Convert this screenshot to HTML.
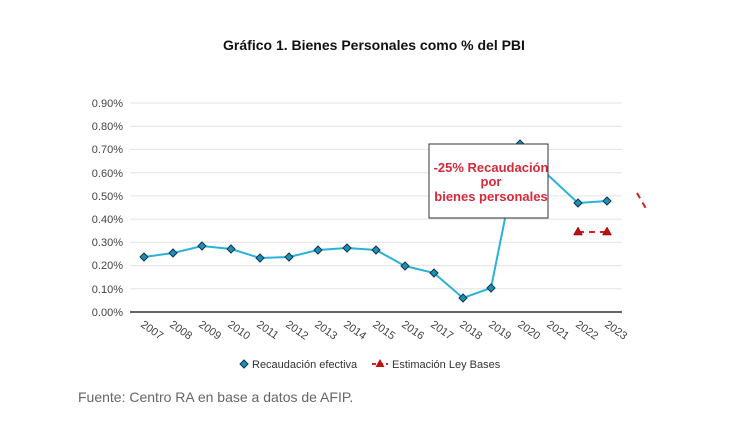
<!DOCTYPE html>
<html><head><meta charset="utf-8"><style>
body{margin:0;background:#fff;width:748px;height:431px;overflow:hidden;font-family:"Liberation Sans",Arial,sans-serif}
</style></head><body>
<svg width="748" height="431" viewBox="0 0 748 431" xmlns="http://www.w3.org/2000/svg" font-family="Liberation Sans, Arial, sans-serif">
<text x="374" y="50" text-anchor="middle" font-size="14" font-weight="bold" fill="#111">Gráfico 1. Bienes Personales como % del PBI</text>
<g stroke="#e3e3e3" stroke-width="1">
<line x1="130" x2="622" y1="103" y2="103"/><line x1="130" x2="622" y1="126.2" y2="126.2"/><line x1="130" x2="622" y1="149.4" y2="149.4"/><line x1="130" x2="622" y1="172.7" y2="172.7"/><line x1="130" x2="622" y1="195.9" y2="195.9"/><line x1="130" x2="622" y1="219.1" y2="219.1"/><line x1="130" x2="622" y1="242.3" y2="242.3"/><line x1="130" x2="622" y1="265.6" y2="265.6"/><line x1="130" x2="622" y1="288.8" y2="288.8"/>
</g>
<line x1="130" x2="622" y1="312" y2="312" stroke="#333" stroke-width="1.5"/>
<g font-size="11" fill="#444" text-anchor="end">
<text x="123" y="107">0.90%</text><text x="123" y="130">0.80%</text><text x="123" y="153">0.70%</text><text x="123" y="177">0.60%</text><text x="123" y="200">0.50%</text><text x="123" y="223">0.40%</text><text x="123" y="246">0.30%</text><text x="123" y="269">0.20%</text><text x="123" y="293">0.10%</text><text x="123" y="316">0.00%</text>
</g>
<g font-size="11" fill="#444">
<text transform="translate(140,326) rotate(35)">2007</text><text transform="translate(169,326) rotate(35)">2008</text><text transform="translate(198,326) rotate(35)">2009</text><text transform="translate(227,326) rotate(35)">2010</text><text transform="translate(256,326) rotate(35)">2011</text><text transform="translate(285,326) rotate(35)">2012</text><text transform="translate(314,326) rotate(35)">2013</text><text transform="translate(343,326) rotate(35)">2014</text><text transform="translate(372,326) rotate(35)">2015</text><text transform="translate(401,326) rotate(35)">2016</text><text transform="translate(430,326) rotate(35)">2017</text><text transform="translate(459,326) rotate(35)">2018</text><text transform="translate(488,326) rotate(35)">2019</text><text transform="translate(517,326) rotate(35)">2020</text><text transform="translate(546,326) rotate(35)">2021</text><text transform="translate(575,326) rotate(35)">2022</text><text transform="translate(604,326) rotate(35)">2023</text>
</g>
<polyline fill="none" stroke="#2bb2d8" stroke-width="2" points="144,257 173,253 202,246 231,249 260,258 289,257 318,250 347,248 376,250 405,266 434,273 463,298 491,288 520,144 549,176 578,203 607,201"/>
<g fill="#1f8fb5" stroke="#0b3550" stroke-width="1">
<path d="M144,253l4,4l-4,4l-4,-4z"/><path d="M173,249l4,4l-4,4l-4,-4z"/><path d="M202,242l4,4l-4,4l-4,-4z"/><path d="M231,245l4,4l-4,4l-4,-4z"/><path d="M260,254l4,4l-4,4l-4,-4z"/><path d="M289,253l4,4l-4,4l-4,-4z"/><path d="M318,246l4,4l-4,4l-4,-4z"/><path d="M347,244l4,4l-4,4l-4,-4z"/><path d="M376,246l4,4l-4,4l-4,-4z"/><path d="M405,262l4,4l-4,4l-4,-4z"/><path d="M434,269l4,4l-4,4l-4,-4z"/><path d="M463,294l4,4l-4,4l-4,-4z"/><path d="M491,284l4,4l-4,4l-4,-4z"/><path d="M520,140l4,4l-4,4l-4,-4z"/><path d="M578,199l4,4l-4,4l-4,-4z"/><path d="M607,197l4,4l-4,4l-4,-4z"/>
</g>
<line x1="578" x2="607" y1="232" y2="232" stroke="#d42020" stroke-width="2" stroke-dasharray="6,5"/>
<g fill="#c01010" stroke="#600" stroke-width="0.5"><path d="M578,227l4.5,8h-9z"/><path d="M607,227l4.5,8h-9z"/></g>
<line x1="637" y1="193" x2="648" y2="212" stroke="#d42020" stroke-width="2" stroke-dasharray="6,5"/>
<rect x="429" y="144" width="119" height="74" fill="#fff" stroke="#333" stroke-width="1"/>
<g font-size="13" font-weight="bold" fill="#d42a3a" text-anchor="middle">
<text x="491" y="172">-25% Recaudación</text><text x="491" y="186">por</text><text x="491" y="201">bienes personales</text>
</g>
<path d="M244,360l4,4l-4,4l-4,-4z" fill="#1f8fb5" stroke="#0b3550"/>
<text x="252" y="368" font-size="11" fill="#333">Recaudación efectiva</text>
<line x1="372" x2="388" y1="364" y2="364" stroke="#d42020" stroke-width="2" stroke-dasharray="4,3"/>
<path d="M380,359l4.5,8h-9z" fill="#c01010"/>
<text x="392" y="368" font-size="11" fill="#333">Estimación Ley Bases</text>
<text x="78" y="402" font-size="14" fill="#666">Fuente: Centro RA en base a datos de AFIP.</text>
</svg>
</body></html>
